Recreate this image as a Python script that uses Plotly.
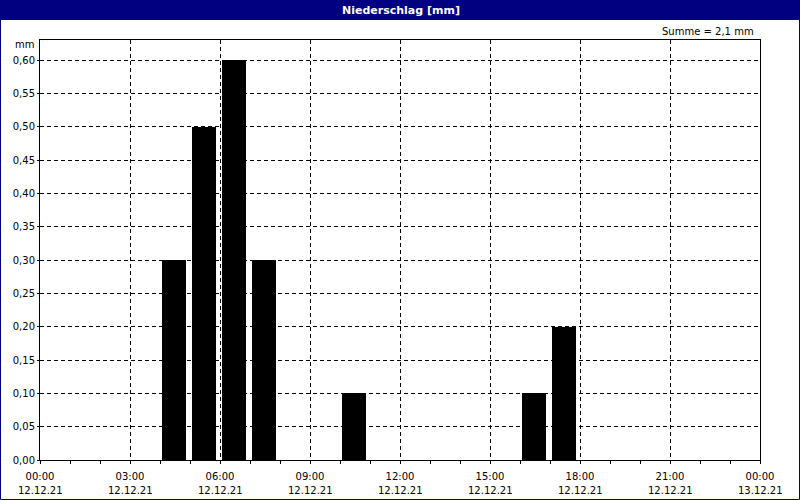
import plotly.graph_objects as go

# Data
hours = [4, 5, 6, 7, 10, 16, 17]          # start hour of each hourly interval (12.12.21)
precip = [0.30, 0.50, 0.60, 0.30, 0.10, 0.10, 0.20]  # mm
tick_hours = [0, 3, 6, 9, 12, 15, 18, 21, 24]
tick_times = ["00:00", "03:00", "06:00", "09:00", "12:00", "15:00", "18:00", "21:00", "00:00"]
tick_dates = ["12.12.21"] * 8 + ["13.12.21"]
y_ticks = [0.00, 0.05, 0.10, 0.15, 0.20, 0.25, 0.30, 0.35, 0.40, 0.45, 0.50, 0.55, 0.60]
title_text = "Niederschlag [mm]"
sum_text = "Summe = 2,1 mm"
unit_text = "mm"

W, H = 800, 500
ML, MR, MT, MB = 40, 40, 40, 40
PW, PH = W - ML - MR, H - MT - MB

def px(q):
    return (q - ML) / PW

def py(p):
    return (H - MB - p) / PH

FONT = "DejaVu Sans"
NAVY = "#000080"

fig = go.Figure()
fig.add_trace(go.Bar(
    x=[h + 0.47 for h in hours],
    y=precip,
    width=0.8,
    marker=dict(color="black", line=dict(width=0)),
    hoverinfo="skip",
))

fig.update_layout(
    width=W, height=H,
    margin=dict(l=ML, r=MR, t=MT, b=MB, pad=0, autoexpand=False),
    paper_bgcolor="white",
    plot_bgcolor="white",
    showlegend=False,
    separators=",.",
    font=dict(family=FONT, size=10, color="black"),
    bargap=0,
)

fig.update_xaxes(
    range=[0, 24],
    tickvals=tick_hours,
    ticktext=tick_times,
    showgrid=True, gridcolor="black", gridwidth=1, griddash="4px,3px",
    showline=True, linecolor="black", linewidth=1, mirror=True,
    ticks="outside", ticklen=3, tickcolor="black",
    minor=dict(dtick=1, tick0=0, ticks="outside", ticklen=3, tickcolor="black", showgrid=False),
    tickfont=dict(family=FONT, size=10),
    ticklabelstandoff=4,
    automargin=False,
    zeroline=False, fixedrange=True,
)
fig.update_yaxes(
    range=[0, 0.63],
    tickvals=y_ticks,
    tickformat=".2f",
    showgrid=True, gridcolor="black", gridwidth=1, griddash="4px,3px",
    showline=True, linecolor="black", linewidth=1, mirror=True,
    ticks="outside", ticklen=2, tickcolor="black",
    tickfont=dict(family=FONT, size=10),
    automargin=False,
    zeroline=False, fixedrange=True,
)

# Date line below time labels
for h, d in zip(tick_hours, tick_dates):
    fig.add_annotation(text=d, xref="x", yref="paper", x=h, y=py(490),
                       xanchor="center", yanchor="middle", showarrow=False,
                       font=dict(family=FONT, size=10, color="black"))

# Title bar
fig.add_shape(type="rect", xref="paper", yref="paper",
              x0=px(0), x1=px(W), y0=py(20), y1=py(0),
              fillcolor=NAVY, line=dict(width=0), layer="below")
# Outer frame
fig.add_shape(type="rect", xref="paper", yref="paper",
              x0=px(0.5), x1=px(W - 0.5), y0=py(H - 0.5), y1=py(0.5),
              fillcolor="rgba(0,0,0,0)", line=dict(color=NAVY, width=1))

fig.add_annotation(text=f"<b>{title_text}</b>", xref="paper", yref="paper",
                   x=px(401), y=py(10), xanchor="center", yanchor="middle",
                   showarrow=False, font=dict(family=FONT, size=11, color="white"))
fig.add_annotation(text=sum_text, xref="paper", yref="paper",
                   x=px(756), y=py(31), xanchor="right", yanchor="middle",
                   showarrow=False, font=dict(family=FONT, size=10, color="black"))
fig.add_annotation(text=unit_text, xref="paper", yref="paper",
                   x=px(36), y=py(45), xanchor="right", yanchor="middle",
                   showarrow=False, font=dict(family=FONT, size=10, color="black"))

fig.write_html("out.html", config={"displayModeBar": False},
               post_script="document.body.style.margin='0px';document.body.style.overflow='hidden';")
